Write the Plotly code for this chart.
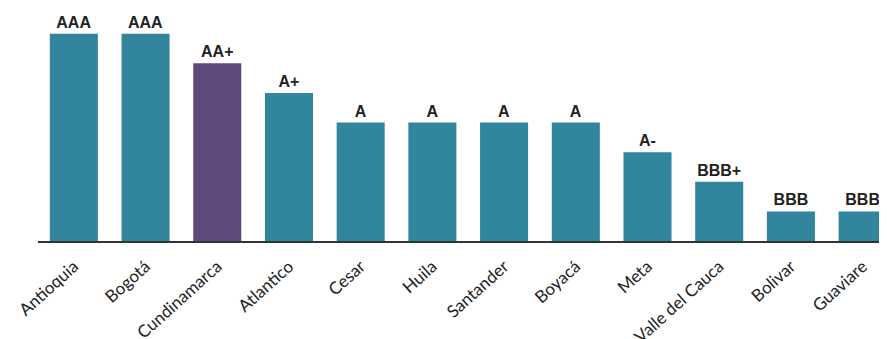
import plotly.graph_objects as go

departments = ["Antioquia", "Bogotá", "Cundinamarca", "Atlantico", "Cesar", "Huila",
               "Santander", "Boyacá", "Meta", "Valle del Cauca", "Bolivar", "Guaviare"]
ratings = ["AAA", "AAA", "AA+", "A+", "A", "A", "A", "A", "A-", "BBB+", "BBB", "BBB"]
scores = [7, 7, 6, 5, 4, 4, 4, 4, 3, 2, 1, 1]
highlight = "Cundinamarca"

TEAL = "#31859C"
PURPLE = "#604A7B"
colors = [PURPLE if d == highlight else TEAL for d in departments]

fig = go.Figure(go.Bar(
    x=departments, y=scores, text=ratings, textposition="outside",
    textfont=dict(family="Liberation Sans", size=16, color="#222222", weight="bold"),
    marker=dict(color=colors, line=dict(width=0)),
    cliponaxis=False,
))

fig.update_layout(
    width=879, height=331,
    margin=dict(l=30, r=0, t=0, b=98, autoexpand=False),
    paper_bgcolor="white", plot_bgcolor="white",
    bargap=0.33, showlegend=False,
    xaxis=dict(range=[-0.5, 11.34], showline=True, linecolor="#333333", linewidth=2,
               tickangle=-42, ticks="", showgrid=False, automargin=False,
               ticklabelstandoff=7,
               tickfont=dict(family="Lato", size=17, color="#222222")),
    yaxis=dict(range=[0, 7.87], visible=False, showgrid=False, zeroline=False, automargin=False),
)

fig.write_html("out.html")
